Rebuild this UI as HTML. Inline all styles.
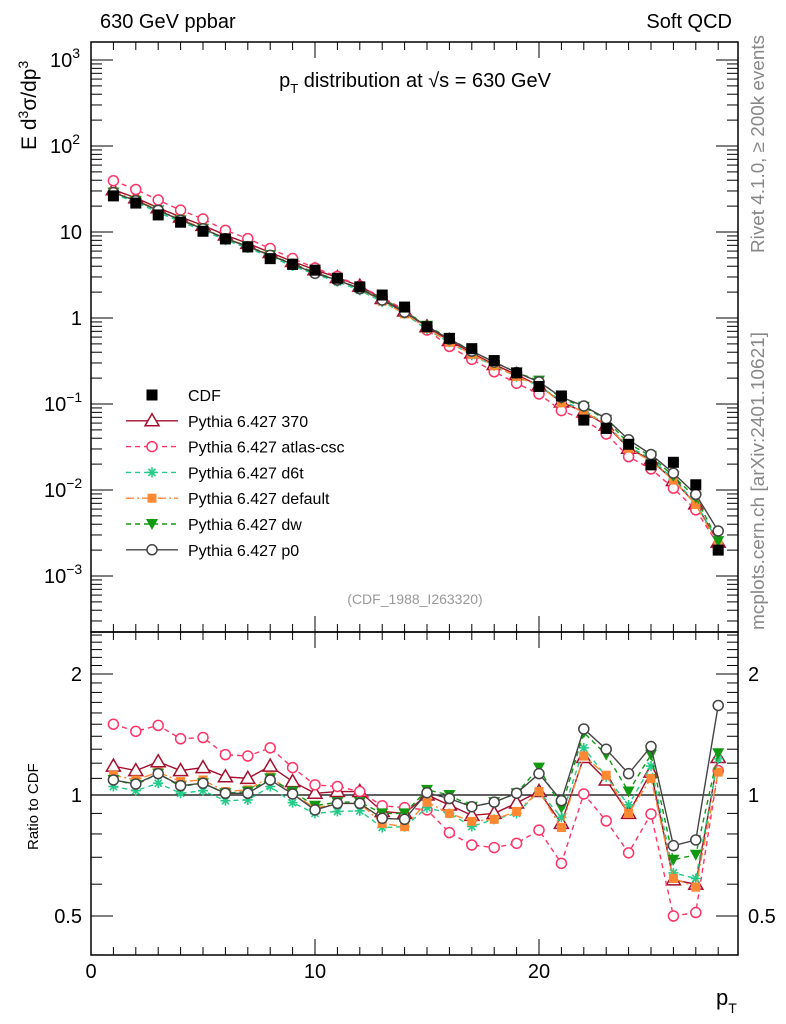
<!DOCTYPE html>
<html><head><meta charset="utf-8"><style>
body{margin:0;background:#fff}
svg{display:block;font-family:"Liberation Sans",sans-serif}
</style></head><body>
<svg id="c" width="786" height="1024" xmlns="http://www.w3.org/2000/svg">
<rect width="786" height="1024" fill="#fff"/>
<text x="100" y="28" font-size="20">630 GeV ppbar</text>
<text x="732" y="28" font-size="20" text-anchor="end">Soft QCD</text>
<text x="415" y="87" font-size="20" text-anchor="middle">p<tspan font-size="13" dy="6">T</tspan><tspan dy="-6"> distribution at √s = 630 GeV</tspan></text>
<text x="415" y="604" font-size="14" fill="#999" text-anchor="middle">(CDF_1988_I263320)</text>
<text transform="translate(36,150) rotate(-90)" font-size="21">E  d<tspan font-size="14" dy="-8">3</tspan><tspan dy="8">σ/dp</tspan><tspan font-size="14" dy="-8">3</tspan></text>
<text transform="translate(38,850) rotate(-90)" font-size="15">Ratio to CDF</text>
<text transform="translate(764,253) rotate(-90)" font-size="18.5" fill="#888" textLength="218" lengthAdjust="spacingAndGlyphs">Rivet 4.1.0, ≥ 200k events</text>
<text transform="translate(764,630) rotate(-90)" font-size="18.5" fill="#888" textLength="298" lengthAdjust="spacingAndGlyphs">mcplots.cern.ch [arXiv:2401.10621]</text>
<text x="716" y="1005" font-size="22">p<tspan font-size="14" dy="8">T</tspan></text>
<g id="g"></g>
</svg>
<script>
const xs = [1,2,3,4,5,6,7,8,9,10,11,12,13,14,15,16,17,18,19,20,21,22,23,24,25,26,27,28];
const cdf = [26.3,21.7,15.8,13,10.2,8.3,6.7,4.9,4.2,3.6,2.9,2.3,1.85,1.34,0.79,0.58,0.44,0.32,0.23,0.16,0.124,0.065,0.052,0.034,0.0196,0.021,0.0115,0.002];
const r370 = [1.18,1.15,1.21,1.15,1.17,1.11,1.10,1.18,1.08,1.01,1.02,1.02,0.91,0.90,1.0,0.944,0.89,0.90,0.955,1.02,0.85,1.24,1.09,0.90,1.14,0.615,0.60,1.24];
const rAtlas = [1.50,1.44,1.49,1.38,1.39,1.26,1.25,1.31,1.17,1.06,1.05,1.02,0.94,0.93,0.918,0.806,0.751,0.740,0.758,0.818,0.676,1.006,0.862,0.718,0.897,0.50,0.51,1.15];
const rD6t = [1.05,1.025,1.07,1.01,1.025,0.968,0.972,1.05,0.957,0.90,0.91,0.913,0.83,0.834,0.93,0.90,0.835,0.87,0.90,1.02,0.88,1.31,1.11,0.945,1.18,0.64,0.62,1.23];
const rDefault = [1.12,1.09,1.14,1.08,1.09,1.02,1.03,1.11,1.01,0.927,0.953,0.953,0.85,0.834,0.96,0.90,0.86,0.87,0.91,1.02,0.83,1.25,1.12,0.90,1.10,0.62,0.59,1.14];
const rDw = [1.09,1.06,1.13,1.05,1.07,1.01,1.02,1.10,1.02,0.94,0.96,0.96,0.90,0.90,1.03,1.0,0.935,0.96,1.01,1.17,0.93,1.43,1.26,1.02,1.26,0.69,0.71,1.27];
const rP0 = [1.09,1.065,1.13,1.055,1.07,1.01,1.01,1.09,1.006,0.918,0.953,0.953,0.875,0.87,1.013,0.98,0.935,0.96,1.01,1.13,0.968,1.46,1.30,1.13,1.32,0.748,0.773,1.67];
const legendLabels = ["CDF","Pythia 6.427 370","Pythia 6.427 atlas-csc","Pythia 6.427 d6t","Pythia 6.427 default","Pythia 6.427 dw","Pythia 6.427 p0"];

const NS="http://www.w3.org/2000/svg";
const g=document.getElementById('g');
const L=91,R=738,T=42,MB=632,RB=955;
const X=v=>L+22.4*v;
const Ym=v=>318-86*Math.log10(v);
const Yr=v=>795-121*Math.log2(v);
function el(t,a,p){const e=document.createElementNS(NS,t);for(const k in a)e.setAttribute(k,a[k]);(p||g).appendChild(e);return e;}

let f1=el('rect',{x:L,y:T,width:R-L,height:MB-T,fill:'none',stroke:'#000','stroke-width':1.5});


let f2=el('rect',{x:L,y:MB,width:R-L,height:RB-MB,fill:'none',stroke:'#000','stroke-width':1.5});



for(let d=-4;d<=3;d++){for(let m=1;m<10;m++){const v=m*Math.pow(10,d);const y=Ym(v);if(y<T||y>MB)continue;const len=m==1?22:11;
el('line',{x1:L,x2:L+len,y1:y,y2:y,stroke:'#000'});el('line',{x1:R-len,x2:R,y1:y,y2:y,stroke:'#000'});}}
const mainLabels=[[3,'10','3'],[2,'10','2'],[1,'10',''],[0,'1',''],[-1,'10','−1'],[-2,'10','−2'],[-3,'10','−3']];
mainLabels.forEach(l=>{const y=Ym(Math.pow(10,l[0]));const t=el('text',{x:l[2]?62:82,y:y+7,'font-size':20,'text-anchor':l[2]?'start':'end'});


if(l[2]){const x0=l[0]<0?44:50;t.setAttribute('x',x0);t.textContent=l[1];const s=document.createElementNS(NS,'tspan');s.setAttribute('dy',-9);s.setAttribute('font-size',14);s.textContent=l[2];t.appendChild(s);}else t.textContent=l[1];});

for(let v=0.4;v<=2.5;v=+(v+0.1).toFixed(1)){const y=Yr(v);if(y<MB||y>RB)continue;const maj=[0.5,1,2].includes(v);const len=maj?22:11;
el('line',{x1:L,x2:L+len,y1:y,y2:y,stroke:'#000'});el('line',{x1:R-len,x2:R,y1:y,y2:y,stroke:'#000'});}
[[2,'2'],[1,'1'],[0.5,'0.5']].forEach(l=>{const y=Yr(l[0])+7;
const a=el('text',{x:82,y:y,'font-size':20,'text-anchor':'end'});a.textContent=l[1];


const b=el('text',{x:748,y:y,'font-size':20});b.textContent=l[1];

});
let ref=el('line',{x1:L,x2:R,y1:Yr(1),y2:Yr(1),stroke:'#000','stroke-width':1.3});



for(let v=0;v<=28;v++){const x=X(v);const len=v%10==0?16:8;
el('line',{x1:x,x2:x,y1:RB,y2:RB-len,stroke:'#000'});el('line',{x1:x,x2:x,y1:MB,y2:MB+len,stroke:'#000'});
el('line',{x1:x,x2:x,y1:MB,y2:MB-len,stroke:'#000'});el('line',{x1:x,x2:x,y1:T,y2:T+len,stroke:'#000'});}
[0,10,20].forEach(v=>{const t=el('text',{x:X(v),y:978,'font-size':20,'text-anchor':'middle'});t.textContent=v;

});

function marker(type,x,y,c,p){
 const s=5.5;
 if(type=='sq') return el('rect',{x:x-s,y:y-s,width:2*s,height:2*s,fill:c},p);
 if(type=='sqs') return el('rect',{x:x-4.5,y:y-4.5,width:9,height:9,fill:c},p);
 if(type=='tri') return el('polygon',{points:`${x},${y-7} ${x-7},${y+5} ${x+7},${y+5}`,fill:'#fff',stroke:c,'stroke-width':1.5},p);
 if(type=='circ') return el('circle',{cx:x,cy:y,r:5,fill:'#fff',stroke:c,'stroke-width':1.5},p);
 if(type=='dtri') return el('polygon',{points:`${x-6},${y-5} ${x+6},${y-5} ${x},${y+6}`,fill:c},p);
 if(type=='star'){const gg=el('g',{stroke:c,'stroke-width':1.6},p);[0,45,90,135].forEach(a=>{const r=a*Math.PI/180;el('line',{x1:x-5*Math.cos(r),y1:y-5*Math.sin(r),x2:x+5*Math.cos(r),y2:y+5*Math.sin(r)},gg);});return gg;}
}
const series=[
 {name:'370',r:r370,c:'#a50f2d',dash:'',m:'tri'},
 {name:'atlas-csc',r:rAtlas,c:'#ff3366',dash:'5,4',m:'circ'},
 {name:'d6t',r:rD6t,c:'#22cc88',dash:'5,4',m:'star'},
 {name:'default',r:rDefault,c:'#ff8833',dash:'8,3,2,3',m:'sqs'},
 {name:'dw',r:rDw,c:'#119911',dash:'5,4',m:'dtri'},
 {name:'p0',r:rP0,c:'#444444',dash:'',m:'circ'}];
series.forEach(s=>{
 const gm=el('g',{});
 
 
 const vals=xs.map((x,i)=>cdf[i]*s.r[i]);
 el('polyline',{points:xs.map((x,i)=>X(x)+','+Ym(vals[i])).join(' '),fill:'none',stroke:s.c,'stroke-width':1.4,'stroke-dasharray':s.dash},gm);
 el('polyline',{points:xs.map((x,i)=>X(x)+','+Yr(s.r[i])).join(' '),fill:'none',stroke:s.c,'stroke-width':1.4,'stroke-dasharray':s.dash},gm);
 xs.forEach((x,i)=>{const a=marker(s.m,X(x),Ym(vals[i]),s.c,gm);
  
  
  const b=marker(s.m,X(x),Yr(s.r[i]),s.c,gm);
  
  });
});
const gc=el('g',{});


xs.forEach((x,i)=>{const m=marker('sq',X(x),Ym(cdf[i]),'#000',gc);

});

const lg=el('g',{});


legendLabels.forEach((lab,i)=>{const y=395+25.8*i;
 const e=el('g',{},lg);
 
 
 if(i==0){marker('sq',152,y,'#000',e);}else{const s=series[i-1];
  el('line',{x1:126,x2:178,y1:y,y2:y,stroke:s.c,'stroke-width':1.4,'stroke-dasharray':s.dash},e);marker(s.m,152,y,s.c,e);}
 const t=el('text',{x:188,y:y+6,'font-size':16},e);t.textContent=lab;});
</script>
</body></html>
